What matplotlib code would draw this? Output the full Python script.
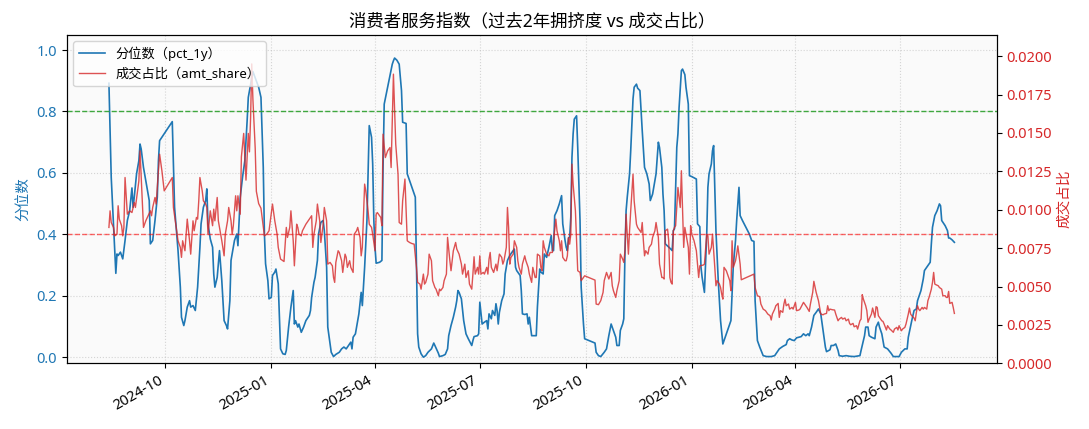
import matplotlib
matplotlib.use('Agg')
import matplotlib.pyplot as plt
import matplotlib.dates as mdates
import pandas as pd

plt.rcParams['font.family'] = ['Noto Sans', 'Noto Sans CJK SC', 'DejaVu Sans']
plt.rcParams['axes.unicode_minus'] = False

START = pd.Timestamp('2024-08-13')

# 拥挤度分位数 (pct_1y): 距START的天数, 数值
pct_day = [0, 2, 6, 7, 8, 10, 12, 14, 16, 18, 20, 21, 22, 24, 26, 27, 28, 30, 32, 35,
           36, 38, 40, 42, 43, 44, 55, 57, 60, 62, 63, 65, 66, 68, 70, 71, 73, 75, 77, 79,
           80, 82, 84, 85, 86, 88, 90, 91, 92, 94, 95, 96, 98, 100, 102, 103, 105, 106, 107, 109,
           111, 112, 114, 116, 118, 120, 121, 123, 125, 128, 130, 132, 134, 135, 136, 138, 139, 141, 142, 144,
           145, 147, 148, 149, 151, 153, 154, 156, 158, 160, 161, 162, 164, 165, 167, 169, 171, 174, 175, 176,
           178, 179, 181, 182, 184, 186, 187, 189, 190, 192, 193, 195, 197, 200, 202, 204, 206, 208, 210, 211,
           212, 214, 215, 217, 219, 220, 221, 222, 224, 225, 226, 228, 229, 230, 231, 232, 235, 237, 238, 239,
           242, 244, 246, 247, 248, 250, 252, 254, 255, 258, 259, 261, 264, 266, 267, 268, 269, 271, 273, 275,
           277, 280, 282, 283, 286, 287, 290, 292, 294, 295, 297, 299, 301, 302, 303, 304, 306, 308, 310, 312,
           315, 316, 317, 320, 321, 322, 324, 326, 328, 329, 330, 332, 333, 335, 336, 337, 338, 339, 341, 343,
           344, 346, 348, 350, 352, 353, 354, 357, 358, 359, 361, 363, 364, 365, 367, 371, 372, 374, 375, 377,
           378, 380, 382, 384, 385, 386, 387, 389, 391, 393, 394, 396, 397, 398, 399, 400, 401, 402, 403, 404,
           406, 407, 409, 410, 412, 413, 422, 423, 425, 427, 430, 432, 434, 436, 438, 440, 441, 443, 444, 446,
           447, 448, 449, 450, 452, 453, 455, 456, 458, 459, 461, 463, 465, 467, 469, 470, 472, 474, 475, 477,
           478, 480, 481, 482, 483, 485, 487, 489, 490, 491, 493, 494, 495, 497, 498, 500, 501, 503, 504, 506,
           508, 510, 511, 513, 514, 515, 517, 519, 520, 521, 523, 524, 525, 527, 529, 531, 533, 534, 537, 540,
           542, 544, 545, 547, 548, 550, 553, 556, 558, 560, 561, 563, 565, 568, 571, 575, 578, 580, 582, 585,
           588, 589, 591, 593, 595, 597, 599, 601, 603, 605, 607, 608, 610, 612, 614, 616, 618, 620, 622, 623,
           626, 627, 629, 631, 633, 634, 637, 640, 643, 647, 652, 653, 655, 656, 657, 659, 660, 662, 665, 666,
           668, 669, 671, 672, 673, 676, 679, 681, 686, 688, 691, 693, 694, 697, 699, 701, 702, 705, 707, 708,
           710, 712, 713, 714, 715, 717, 719, 721, 722, 723, 726, 728, 729, 730, 732, 734]
pct_val = [0.892, 0.586, 0.273, 0.336, 0.331, 0.342, 0.320, 0.380, 0.445, 0.477, 0.551, 0.488, 0.521, 0.597, 0.640, 0.694, 0.678, 0.618, 0.575, 0.510,
           0.369, 0.380, 0.445, 0.521, 0.640, 0.705, 0.767, 0.488, 0.347, 0.228, 0.130, 0.103, 0.119, 0.163, 0.184, 0.163, 0.168, 0.152, 0.228, 0.358,
           0.434, 0.488, 0.510, 0.548, 0.434, 0.385, 0.358, 0.271, 0.228, 0.260, 0.304, 0.347, 0.249, 0.119, 0.103, 0.092, 0.184, 0.315, 0.336, 0.380,
           0.401, 0.363, 0.521, 0.586, 0.640, 0.770, 0.846, 0.889, 0.930, 0.900, 0.879, 0.846, 0.618, 0.401, 0.304, 0.249, 0.190, 0.195, 0.266, 0.277,
           0.287, 0.239, 0.130, 0.027, 0.011, 0.009, 0.022, 0.098, 0.163, 0.217, 0.108, 0.119, 0.098, 0.108, 0.081, 0.098, 0.119, 0.136, 0.152, 0.195,
           0.244, 0.260, 0.315, 0.401, 0.439, 0.445, 0.412, 0.293, 0.098, 0.043, 0.016, 0.002, 0.009, 0.016, 0.027, 0.033, 0.027, 0.038, 0.049, 0.027,
           0.065, 0.076, 0.098, 0.141, 0.211, 0.168, 0.228, 0.293, 0.445, 0.597, 0.754, 0.716, 0.629, 0.445, 0.358, 0.306, 0.309, 0.315, 0.618, 0.824,
           0.879, 0.916, 0.954, 0.965, 0.974, 0.967, 0.954, 0.868, 0.765, 0.761, 0.597, 0.575, 0.542, 0.521, 0.293, 0.076, 0.033, 0.011, 0.000, 0.005,
           0.016, 0.027, 0.046, 0.038, 0.013, 0.002, 0.005, 0.009, 0.027, 0.070, 0.103, 0.130, 0.163, 0.184, 0.217, 0.211, 0.190, 0.119, 0.076, 0.060,
           0.038, 0.054, 0.067, 0.070, 0.076, 0.179, 0.108, 0.114, 0.119, 0.092, 0.141, 0.125, 0.152, 0.136, 0.174, 0.152, 0.108, 0.146, 0.184, 0.206,
           0.271, 0.315, 0.331, 0.342, 0.352, 0.293, 0.282, 0.266, 0.217, 0.141, 0.139, 0.141, 0.108, 0.130, 0.070, 0.070, 0.163, 0.287, 0.277, 0.271,
           0.336, 0.325, 0.358, 0.396, 0.347, 0.347, 0.461, 0.477, 0.499, 0.526, 0.434, 0.380, 0.358, 0.347, 0.388, 0.390, 0.456, 0.651, 0.727, 0.775,
           0.786, 0.683, 0.445, 0.228, 0.108, 0.060, 0.046, 0.016, 0.005, 0.002, 0.016, 0.027, 0.070, 0.108, 0.087, 0.065, 0.038, 0.038, 0.087, 0.108,
           0.125, 0.336, 0.477, 0.521, 0.597, 0.672, 0.841, 0.879, 0.889, 0.876, 0.868, 0.738, 0.618, 0.597, 0.564, 0.510, 0.531, 0.575, 0.597, 0.700,
           0.683, 0.618, 0.531, 0.477, 0.369, 0.362, 0.355, 0.347, 0.412, 0.418, 0.683, 0.727, 0.813, 0.933, 0.938, 0.920, 0.879, 0.824, 0.591, 0.588,
           0.584, 0.580, 0.434, 0.425, 0.293, 0.260, 0.211, 0.401, 0.553, 0.597, 0.629, 0.672, 0.689, 0.412, 0.249, 0.119, 0.043, 0.054, 0.087, 0.119,
           0.293, 0.380, 0.445, 0.553, 0.461, 0.445, 0.423, 0.401, 0.380, 0.377, 0.184, 0.054, 0.033, 0.005, 0.002, 0.002, 0.005, 0.016, 0.027, 0.035,
           0.041, 0.054, 0.060, 0.056, 0.054, 0.063, 0.065, 0.067, 0.076, 0.070, 0.076, 0.070, 0.098, 0.136, 0.146, 0.157, 0.141, 0.087, 0.033, 0.018,
           0.024, 0.038, 0.038, 0.043, 0.022, 0.005, 0.003, 0.005, 0.003, 0.002, 0.005, 0.022, 0.054, 0.070, 0.098, 0.098, 0.070, 0.065, 0.060, 0.098,
           0.114, 0.098, 0.076, 0.054, 0.033, 0.027, 0.013, 0.002, 0.002, 0.016, 0.027, 0.027, 0.065, 0.119, 0.152, 0.157, 0.184, 0.217, 0.255, 0.282,
           0.293, 0.304, 0.309, 0.369, 0.423, 0.461, 0.477, 0.499, 0.493, 0.445, 0.428, 0.412, 0.388, 0.388, 0.382, 0.374]

# 成交占比 (amt_share), 单位: bp (1e-4)
amt_day = [0, 1, 2, 4, 5, 7, 8, 9, 11, 12, 13, 14, 16, 18, 20, 22, 23, 26, 27, 29,
           30, 32, 34, 36, 37, 38, 40, 41, 42, 44, 46, 48, 55, 56, 58, 60, 62, 63, 64, 66,
           67, 68, 70, 71, 73, 74, 76, 77, 78, 79, 81, 82, 84, 85, 86, 88, 90, 91, 92, 94,
           95, 97, 98, 100, 101, 103, 104, 106, 107, 108, 110, 111, 112, 114, 115, 117, 119, 121, 122, 123,
           124, 125, 127, 128, 130, 132, 134, 135, 137, 139, 142, 144, 146, 147, 149, 151, 152, 154, 155, 157,
           158, 160, 161, 163, 164, 165, 167, 168, 171, 173, 176, 177, 178, 180, 181, 183, 184, 186, 187, 189,
           190, 192, 194, 195, 196, 197, 199, 200, 202, 203, 205, 206, 207, 209, 210, 212, 213, 215, 216, 218,
           219, 220, 222, 223, 225, 226, 228, 229, 231, 232, 233, 235, 236, 237, 238, 240, 242, 244, 245, 247,
           248, 249, 251, 252, 254, 255, 257, 259, 261, 263, 265, 267, 268, 270, 271, 273, 274, 275, 277, 278,
           280, 281, 283, 284, 286, 287, 288, 290, 291, 293, 294, 296, 297, 299, 301, 302, 304, 306, 307, 309,
           310, 312, 313, 315, 316, 317, 318, 320, 321, 322, 323, 325, 326, 328, 329, 330, 331, 332, 334, 336,
           337, 339, 341, 342, 343, 345, 346, 347, 348, 349, 351, 352, 354, 355, 356, 358, 359, 361, 362, 364,
           365, 367, 368, 370, 371, 372, 374, 375, 376, 377, 378, 380, 382, 383, 385, 386, 388, 389, 391, 392,
           393, 394, 396, 397, 398, 399, 400, 401, 402, 403, 405, 406, 407, 409, 410, 411, 413, 422, 423, 425,
           427, 429, 430, 432, 434, 436, 437, 438, 440, 441, 443, 444, 446, 447, 448, 449, 450, 451, 452, 453,
           455, 456, 458, 459, 461, 462, 463, 464, 465, 466, 468, 469, 471, 472, 474, 475, 477, 478, 480, 481,
           482, 483, 485, 486, 487, 488, 489, 490, 491, 492, 494, 495, 496, 497, 498, 499, 500, 501, 503, 504,
           505, 506, 508, 510, 511, 512, 513, 516, 517, 519, 520, 521, 523, 524, 526, 527, 528, 530, 531, 532,
           533, 534, 536, 537, 539, 540, 541, 542, 544, 545, 546, 548, 549, 560, 561, 563, 565, 566, 568, 570,
           572, 574, 575, 576, 578, 579, 581, 582, 583, 585, 586, 587, 588, 590, 591, 593, 594, 596, 597, 599,
           600, 602, 603, 605, 606, 608, 609, 611, 612, 613, 614, 616, 617, 618, 620, 621, 623, 624, 625, 626,
           628, 630, 631, 633, 634, 636, 637, 639, 640, 642, 643, 644, 646, 647, 649, 650, 652, 653, 654, 655,
           657, 658, 659, 660, 662, 663, 665, 666, 667, 668, 669, 671, 672, 673, 675, 676, 678, 679, 681, 682,
           684, 685, 686, 688, 689, 691, 692, 694, 695, 696, 697, 699, 700, 701, 702, 703, 704, 706, 707, 708,
           710, 711, 712, 714, 715, 716, 717, 718, 720, 721, 723, 724, 726, 727, 728, 729, 730, 732, 733, 734]
amt_bp = [88.5, 99.3, 91.7, 88.5, 83.0, 84.1, 102.6, 93.9, 89.6, 83.0, 88.5, 121.0, 97.1, 99.3, 98.2, 104.8, 101.5, 118.8, 138.4, 105.8,
          88.5, 92.8, 96.1, 99.3, 96.1, 101.5, 108.0, 103.7, 114.5, 136.2, 125.4, 112.3, 121.0, 101.5, 90.6, 79.8, 75.5, 69.0, 79.8, 73.3,
          84.1, 93.9, 79.8, 71.1, 92.8, 86.3, 95.0, 93.9, 105.8, 121.0, 112.3, 105.8, 103.7, 101.5, 84.1, 99.3, 89.6, 100.4, 92.8, 108.0,
          92.8, 84.1, 79.8, 70.0, 84.1, 92.8, 101.5, 92.8, 84.1, 89.6, 109.1, 99.3, 109.1, 97.1, 134.4, 149.7, 119.3, 149.7, 137.7, 160.0,
          195.0, 172.0, 140.0, 112.0, 104.0, 101.0, 89.0, 83.0, 84.1, 86.3, 103.7, 92.8, 84.1, 75.5, 67.9, 66.8, 66.3, 88.5, 82.0, 88.5,
          99.3, 79.8, 63.5, 90.6, 88.5, 84.1, 83.0, 86.3, 90.6, 92.8, 96.1, 75.5, 84.1, 92.8, 103.7, 92.8, 78.7, 90.6, 101.5, 92.8,
          64.6, 65.7, 63.5, 55.9, 52.7, 65.7, 73.3, 72.2, 66.8, 59.2, 71.1, 69.0, 62.5, 66.8, 62.5, 59.2, 84.1, 86.3, 88.5, 82.0,
          70.0, 75.5, 116.7, 112.3, 99.3, 90.6, 88.5, 84.1, 73.3, 97.1, 98.2, 96.1, 95.0, 89.6, 149.2, 134.0, 138.4, 140.5, 127.5, 188.3,
          166.5, 142.7, 123.2, 91.7, 90.6, 105.8, 120.0, 79.8, 78.7, 78.0, 77.6, 62.5, 52.7, 51.6, 48.3, 58.1, 51.6, 52.7, 58.1, 71.1,
          66.8, 53.8, 49.4, 48.3, 44.0, 48.3, 47.3, 49.4, 53.8, 58.1, 82.0, 66.8, 60.3, 73.3, 78.7, 74.4, 71.1, 64.6, 58.1, 64.6,
          55.9, 60.3, 51.6, 48.3, 58.1, 69.4, 58.1, 62.5, 58.1, 70.0, 58.1, 59.2, 58.1, 62.5, 58.1, 67.9, 72.2, 62.5, 59.2, 64.6,
          60.3, 71.1, 69.0, 64.6, 66.8, 75.5, 101.5, 88.5, 64.6, 69.0, 71.1, 79.8, 75.5, 66.8, 62.5, 58.1, 64.6, 70.0, 66.8, 62.5,
          58.1, 52.7, 62.5, 55.9, 55.9, 71.1, 70.0, 62.5, 60.3, 79.8, 75.5, 71.1, 70.0, 72.2, 72.2, 79.8, 93.9, 86.3, 79.8, 73.3,
          79.8, 69.0, 66.8, 66.8, 70.0, 82.0, 77.6, 84.1, 129.7, 116.7, 99.3, 79.8, 60.3, 59.2, 53.8, 54.9, 57.0, 54.2, 38.6, 38.2,
          40.8, 46.2, 53.8, 59.2, 54.9, 59.2, 50.5, 47.3, 42.9, 47.3, 53.8, 71.1, 67.9, 65.7, 73.3, 97.1, 84.1, 71.1, 86.3, 99.3,
          123.2, 105.8, 90.6, 88.5, 86.3, 85.2, 91.7, 79.8, 70.0, 73.3, 71.1, 75.5, 77.6, 82.0, 86.3, 91.7, 82.0, 64.6, 55.9, 55.9,
          54.9, 86.3, 87.4, 79.8, 55.9, 52.7, 51.6, 86.3, 88.5, 89.6, 114.5, 108.0, 101.5, 125.4, 101.5, 75.5, 88.5, 84.1, 75.5, 58.1,
          89.6, 84.1, 79.8, 73.3, 64.6, 55.9, 63.5, 64.0, 64.6, 84.1, 83.0, 71.1, 75.5, 84.1, 62.5, 50.5, 53.8, 51.6, 49.4, 45.1,
          41.8, 62.5, 60.3, 58.1, 53.8, 47.3, 79.8, 62.5, 66.8, 71.1, 76.5, 64.6, 54.4, 58.1, 49.4, 44.0, 43.4, 38.6, 35.3, 34.3,
          32.1, 31.0, 28.2, 32.1, 35.3, 37.5, 39.0, 29.9, 34.3, 33.2, 38.6, 41.8, 37.5, 38.6, 35.3, 36.4, 35.3, 39.7, 34.3, 34.7,
          35.3, 38.2, 39.7, 37.5, 36.4, 33.8, 38.6, 46.2, 53.4, 49.9, 46.2, 40.8, 36.4, 32.1, 31.6, 32.1, 32.5, 37.5, 34.3, 35.3,
          34.9, 34.7, 32.1, 27.7, 28.8, 29.9, 28.8, 29.5, 27.7, 28.8, 26.0, 25.1, 26.0, 23.8, 24.5, 22.3, 27.7, 28.8, 44.7, 41.8,
          37.5, 34.3, 26.7, 28.8, 32.1, 36.0, 29.9, 36.9, 36.4, 31.0, 29.9, 27.7, 27.3, 25.6, 21.7, 24.5, 22.3, 21.7, 20.2, 22.3,
          23.4, 21.7, 24.5, 21.2, 22.3, 23.4, 25.6, 32.1, 36.0, 32.1, 31.0, 29.5, 27.7, 33.2, 37.5, 35.3, 34.3, 36.4, 35.3, 36.4,
          35.3, 40.8, 42.9, 48.3, 52.7, 59.2, 51.6, 51.2, 50.5, 49.4, 48.3, 44.0, 44.0, 42.9, 42.9, 46.8, 39.0, 39.7, 36.4, 32.5]

pct_dates = START + pd.to_timedelta(pct_day, unit='D')
amt_dates = START + pd.to_timedelta(amt_day, unit='D')
amt_share = [v / 1e4 for v in amt_bp]

BLUE = '#1f77b4'
RED = '#d62728'

fig = plt.figure(figsize=(10.89, 4.29), dpi=100)
ax1 = fig.add_subplot(111)
ax1.set_facecolor('#fafafa')
l1, = ax1.plot(pct_dates, pct_val, color=BLUE, lw=1.2, label='分位数（pct_1y）')
ax1.axhline(0.8, color='#2ca02c', ls='--', lw=1.0, alpha=0.9)
ax1.axhline(0.4, color='red', ls='--', lw=1.0, alpha=0.6)
ax1.set_ylim(-0.02, 1.05)
ax1.set_ylabel('分位数', color=BLUE, fontsize=10.5)
ax1.tick_params(axis='y', labelcolor=BLUE, labelsize=10.5)
ax1.tick_params(axis='x', labelsize=10.5)
ax1.grid(True, ls=':', alpha=0.5)

ax2 = ax1.twinx()
l2, = ax2.plot(amt_dates, amt_share, color=RED, lw=1.0, alpha=0.8, label='成交占比（amt_share）')
ax2.set_ylim(0, 0.0214)
ax2.set_ylabel('成交占比', color=RED, fontsize=10.5)
ax2.tick_params(axis='y', labelcolor=RED, labelsize=10.5)

ax1.xaxis.set_major_locator(mdates.MonthLocator(bymonth=[1, 4, 7, 10]))
ax1.xaxis.set_major_formatter(mdates.DateFormatter('%Y-%m'))
for lbl in ax1.get_xticklabels():
    lbl.set_rotation(30)
    lbl.set_ha('right')

ax2.legend([l1, l2], [l1.get_label(), l2.get_label()], loc='upper left', fontsize=9.5)
ax1.set_title('消费者服务指数（过去2年拥挤度 vs 成交占比）', fontsize=12.5)

fig.subplots_adjust(left=0.0612, right=0.9152, bottom=0.1531, top=0.9191)
fig.savefig('out.png', dpi=100)
